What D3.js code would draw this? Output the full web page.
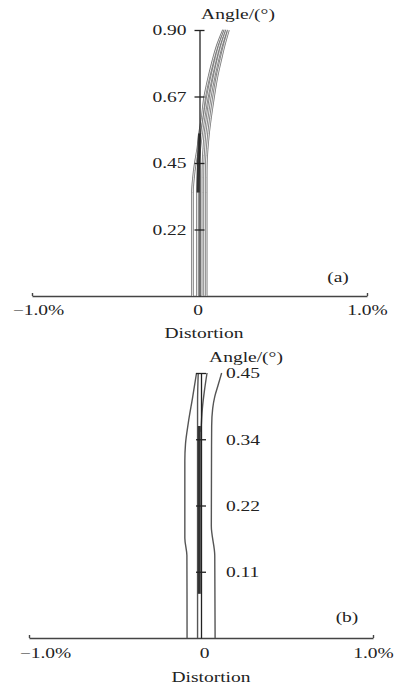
<!DOCTYPE html>
<html>
<head>
<meta charset="utf-8">
<script src="https://cdn.jsdelivr.net/npm/d3@7"></script>
<style>
  body { margin: 0; background: #fff; }
  text { font-family: "Liberation Serif", "Times New Roman", serif; font-size: 15px; fill: #222; }
</style>
</head>
<body>
<div id="chart"></div>
<script>
// panel (a) : distortion (%) against angle (deg)
const angleA = [0, 0.35, 0.4, 0.45, 0.5, 0.55, 0.6, 0.67, 0.75, 0.8, 0.85, 0.9];
const curveA1 = [-0.042, -0.042, -0.036, -0.025, -0.01, 0.0, 0.015, 0.03, 0.06, 0.082, 0.108, 0.143];
const curveA2 = [-0.012, -0.012, -0.01, -0.006, 0.002, 0.013, 0.026, 0.046, 0.075, 0.096, 0.12, 0.152];
const curveA3 = [0.02, 0.02, 0.02, 0.021, 0.026, 0.033, 0.045, 0.063, 0.09, 0.11, 0.133, 0.162];
const curveA4 = [0.04, 0.04, 0.04, 0.041, 0.046, 0.054, 0.065, 0.083, 0.107, 0.127, 0.148, 0.173];
const darkAngleA = [0.35, 0.45, 0.55];
const darkA = [-0.008, -0.006, 0.0];
const yTicksA = [0.225, 0.45, 0.675, 0.9];
const yLabelsA = ["0.22", "0.45", "0.67", "0.90"];

// panel (b)
const angleB1 = [0, 0.14, 0.17, 0.3, 0.33, 0.365, 0.41, 0.45];
const curveB1 = [-0.081, -0.082, -0.094, -0.094, -0.09, -0.074, -0.048, -0.026];
const angleB2 = [0, 0.4, 0.45];
const curveB2 = [-0.02, -0.02, -0.016];
const angleB3 = [0.35, 0.39, 0.42, 0.45];
const curveB3 = [0, 0.008, 0.02, 0.035];
const angleB4 = [0, 0.14, 0.19, 0.36, 0.39, 0.41, 0.43, 0.45];
const curveB4 = [0.082, 0.08, 0.06, 0.062, 0.068, 0.08, 0.1, 0.12];
const darkAngleB = [0.075, 0.36];
const darkB = [-0.01, -0.01];
const yTicksB = [0.1125, 0.225, 0.3375, 0.45];
const yLabelsB = ["0.11", "0.22", "0.34", "0.45"];

const xTicks = [-1, 0, 1];
const xLabels = ["\u22121.0%", "0", "1.0%"];

const K = 1.3; // the scanned type is stretched sideways

const svg = d3.select("#chart")
  .append("svg")
  .attr("width", 395)
  .attr("height", 686);

function pairs(ang, val) {
  return ang.map((a, i) => ({ a: a, v: val[i] }));
}

function stretch(sel) {
  sel.each(function() {
    const t = d3.select(this);
    const x0 = +t.attr("x") || 0;
    t.attr("x", x0 / K).attr("transform", `scale(${K},1)`);
  });
}

function label(g, pos, txt) {
  g.append("text").attr("x", pos[0]).attr("y", pos[1])
    .attr("text-anchor", "middle").text(txt)
    .call(stretch);
}

function panel(cfg) {
  const x = d3.scaleLinear().domain([-1, 1]).range(cfg.xr);
  const y = d3.scaleLinear().domain([0, cfg.ymax]).range(cfg.yr);
  const g = svg.append("g");

  const line = d3.line()
    .x(d => x(d.v))
    .y(d => y(d.a))
    .curve(d3.curveMonotoneY);

  // x axis
  const xa = g.append("g")
    .attr("transform", `translate(0,${cfg.yr[0]})`)
    .call(d3.axisBottom(x).tickValues(xTicks).tickFormat((d, i) => xLabels[i])
      .tickSize(-3).tickSizeOuter(0).tickPadding(cfg.xpad));
  xa.select(".domain").attr("stroke", "#444").attr("stroke-width", 1.4);
  xa.selectAll(".tick line").attr("stroke", "#444").attr("stroke-width", 1.4)
    .filter(d => d === 0).remove();
  xa.selectAll(".tick text").attr("font-size", null).attr("font-family", null)
    .attr("x", (d, i) => cfg.xdx[i])
    .call(stretch);

  // curves
  cfg.series.forEach(s => {
    if (cfg.hollow) {
      g.append("path").datum(s).attr("fill", "none")
        .attr("stroke", "#777").attr("stroke-width", 2.6).attr("d", line);
      g.append("path").datum(s).attr("fill", "none")
        .attr("stroke", "#fff").attr("stroke-width", 0.8).attr("d", line);
    } else {
      g.append("path").datum(s).attr("fill", "none")
        .attr("stroke", "#555").attr("stroke-width", 1.4).attr("d", line);
    }
  });
  g.append("path").datum(cfg.dark).attr("fill", "none")
    .attr("stroke", "#333").attr("stroke-width", 3).attr("d", line);

  // y axis along zero distortion
  const axisFn = cfg.right ? d3.axisRight(y) : d3.axisLeft(y);
  const ya = g.append("g")
    .attr("transform", `translate(${x(0)},0)`)
    .call(axisFn.tickValues(cfg.yt).tickFormat((d, i) => cfg.yl[i])
      .tickSize(5).tickSizeOuter(0).tickPadding(cfg.ypad));
  ya.select(".domain").attr("stroke", "#222").attr("stroke-width", 1.3);
  ya.selectAll(".tick line").attr("stroke", "#222").attr("stroke-width", 1.3)
    .attr("x1", -5).attr("x2", 5);
  ya.selectAll(".tick text").attr("font-size", null).attr("font-family", null)
    .call(stretch);

  label(g, cfg.titlePos, "Angle/(\u00b0)");
  label(g, cfg.xtitlePos, "Distortion");
  label(g, cfg.tagPos, cfg.tag);
}

panel({
  xr: [32, 367], yr: [296, 30], ymax: 0.9,
  series: [pairs(angleA, curveA1), pairs(angleA, curveA2), pairs(angleA, curveA3), pairs(angleA, curveA4)],
  dark: pairs(darkAngleA, darkA),
  hollow: true, right: false,
  yt: yTicksA, yl: yLabelsA, ypad: 8, xpad: 8, xdx: [6, -2, 0],
  titlePos: [238, 19], xtitlePos: [204, 338], tagPos: [338, 282], tag: "(a)"
});

panel({
  xr: [29, 373], yr: [638, 373], ymax: 0.45,
  series: [pairs(angleB1, curveB1), pairs(angleB2, curveB2), pairs(angleB3, curveB3), pairs(angleB4, curveB4)],
  dark: pairs(darkAngleB, darkB),
  hollow: false, right: true,
  yt: yTicksB, yl: yLabelsB, ypad: 20, xpad: 9, xdx: [16, 3, 0],
  titlePos: [246, 362], xtitlePos: [211, 682], tagPos: [347, 622], tag: "(b)"
});
</script>
</body>
</html>
